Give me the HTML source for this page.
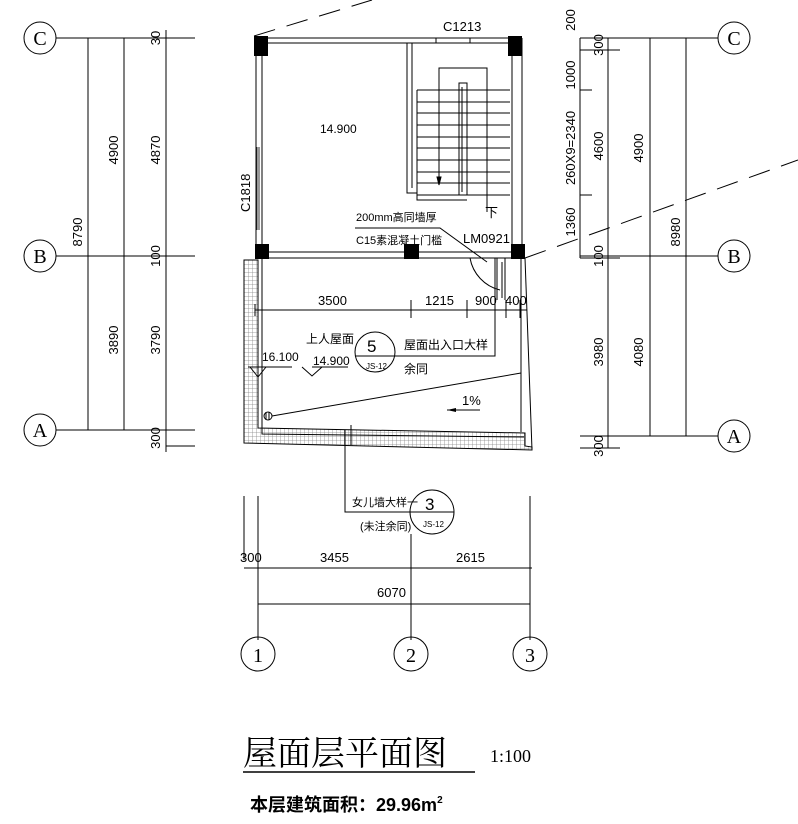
<!DOCTYPE html><html><head><meta charset="utf-8"><style>body{margin:0;background:#fff}svg{display:block}text{font-family:"Liberation Sans","Noto Sans CJK SC",sans-serif;fill:#000}</style></head><body>
<svg width="798" height="824" viewBox="0 0 798 824" xmlns="http://www.w3.org/2000/svg">
<defs><pattern id="h" width="4" height="4" patternUnits="userSpaceOnUse"><rect width="4" height="4" fill="#fff"/><path d="M0 0H4M0 0V4" stroke="#888" stroke-width="0.8"/></pattern></defs>
<g stroke="#000" fill="none" stroke-width="1">
<!-- left axes -->
<circle cx="40" cy="38" r="16"/><circle cx="40" cy="256" r="16"/><circle cx="40" cy="430" r="16"/>
<path d="M56 38H195M56 256H195M56 430H195M166 446H195M88 38V430M124 38V430M166 30V452"/>
<!-- right axes -->
<circle cx="734" cy="38" r="16"/><circle cx="734" cy="256" r="16"/><circle cx="734" cy="436" r="16"/>
<path d="M580 38H718M580 256H718M580 436H718M580 448H620M580 50H620M580 90H592M580 195H592M580 258H620M580 38V258M608 38V448M650 38V436M686 38V436"/>
<!-- dashed -->
<path d="M254 36L372 0M525 258L798 160" stroke-dasharray="22,12"/>
<!-- walls -->
<path d="M255 38H522M255 43H522M262 43V252M256 38V252M512 43V252M522 38V252M255 252H525M255 258H525"/>
<path d="M436 43H470M436 38V43M470 38V43"/>
<path d="M407 43V193H417M412 43V188M417 90V200H467M417 90H510"/>
<path d="M417 102H510M417 113H510M417 125H510M417 137H510M417 148H510M417 160H510M417 172H510M417 183H510M417 195H510"/>
<path d="M459 83H467V195H459ZM462 87V192"/>
<path d="M439 185V68H487V212"/>
<path d="M439 185l-2-8h4z" fill="#000"/>
<path d="M262 147V230M257 147V230M259 147V230" stroke-width="0.8"/>
<path d="M470 258A40 40 0 0 0 500 290M497 258V300M505 258V300M502 262V298" />
<path d="M355 228H440L487 262"/>
</g>
<g fill="#000">
<rect x="254" y="36" width="14" height="20"/><rect x="508" y="36" width="14" height="20"/>
<rect x="255" y="244" width="14" height="15"/><rect x="404" y="244" width="15" height="15"/><rect x="511" y="244" width="14" height="15"/>
</g>
<!-- roof -->
<path d="M244 260H258V428L525 433V446L532 447L532 450L244 443Z" fill="url(#h)" stroke="#000"/>
<g stroke="#000" fill="none">
<path d="M262 258V434L524 437M525 258L532 450M521 258V432"/>
<path d="M255 310H527M255 304V316M411 300V318M467 300V318M506 300V318M520 300V318"/>
<circle cx="375" cy="352" r="20"/><path d="M355 356H495V258"/>
<path d="M248 367H292M250 367l8 10l8-10M312 367H348M302 367l10 9l10-9"/>
<path d="M272 416L521 373"/><circle cx="268" cy="416" r="4"/><path d="M266 412V420M269 412V420"/>
<path d="M447 410H480"/><path d="M345 430V512H413M351 425V445" />
<circle cx="432" cy="512" r="22"/><path d="M411 512H454"/>
<path d="M244 496V560M258 496V640M411 534V640M530 496V640M244 568H532M258 604H530"/>
<circle cx="258" cy="654" r="17"/><circle cx="411" cy="654" r="17"/><circle cx="530" cy="654" r="17"/>
<path d="M243 772H475" stroke-width="1.5"/>
</g>
<path d="M447 410l9-2v4z" fill="#000"/>
<g font-size="13">
<text x="443" y="31">C1213</text>
<text x="320" y="133" font-size="12">14.900</text>
<text transform="translate(250 212) rotate(-90)">C1818</text>
<text x="356" y="221" font-size="11">200mm高同墙厚</text>
<text x="356" y="244" font-size="11">C15素混凝土门槛</text>
<text x="485" y="217">下</text>
<text x="463" y="243">LM0921</text>
<text x="318" y="305">3500</text><text x="425" y="305">1215</text><text x="475" y="305">900</text><text x="505" y="305">400</text>
<text x="306" y="343" font-size="12">上人屋面</text>
<text x="404" y="349" font-size="12">屋面出入口大样</text>
<text x="404" y="373" font-size="12">余同</text>
<text x="262" y="361" font-size="12">16.100</text><text x="313" y="365" font-size="12">14.900</text>
<text x="367" y="352" font-size="17">5</text><text x="366" y="369" font-size="8">JS-12</text>
<text x="462" y="405">1%</text>
<text x="352" y="506" font-size="11">女儿墙大样一</text>
<text x="360" y="530" font-size="11">(未注余同)</text>
<text x="425" y="510" font-size="17">3</text><text x="423" y="527" font-size="8">JS-12</text>
<text x="240" y="562">300</text><text x="320" y="562">3455</text><text x="456" y="562">2615</text><text x="377" y="597">6070</text>
</g>
<g font-family="Liberation Serif" font-size="20" text-anchor="middle">
<text x="40" y="45" style="font-family:'Liberation Serif'">C</text><text x="40" y="263" style="font-family:'Liberation Serif'">B</text><text x="40" y="437" style="font-family:'Liberation Serif'">A</text>
<text x="734" y="45" style="font-family:'Liberation Serif'">C</text><text x="734" y="263" style="font-family:'Liberation Serif'">B</text><text x="734" y="443" style="font-family:'Liberation Serif'">A</text>
<text x="258" y="662" style="font-family:'Liberation Serif'">1</text><text x="411" y="662" style="font-family:'Liberation Serif'">2</text><text x="530" y="662" style="font-family:'Liberation Serif'">3</text>
</g>
<g font-size="13" text-anchor="middle">
<text transform="translate(82 232) rotate(-90)">8790</text>
<text transform="translate(118 150) rotate(-90)">4900</text>
<text transform="translate(118 340) rotate(-90)">3890</text>
<text transform="translate(160 150) rotate(-90)">4870</text>
<text transform="translate(160 340) rotate(-90)">3790</text>
<text transform="translate(160 38) rotate(-90)">30</text>
<text transform="translate(160 256) rotate(-90)">100</text>
<text transform="translate(160 438) rotate(-90)">300</text>
<text transform="translate(575 20) rotate(-90)">200</text>
<text transform="translate(603 45) rotate(-90)">300</text>
<text transform="translate(575 75) rotate(-90)">1000</text>
<text transform="translate(575 148) rotate(-90)">260X9=2340</text>
<text transform="translate(603 146) rotate(-90)">4600</text>
<text transform="translate(575 222) rotate(-90)">1360</text>
<text transform="translate(603 256) rotate(-90)">100</text>
<text transform="translate(643 148) rotate(-90)">4900</text>
<text transform="translate(680 232) rotate(-90)">8980</text>
<text transform="translate(603 352) rotate(-90)">3980</text>
<text transform="translate(643 352) rotate(-90)">4080</text>
<text transform="translate(603 446) rotate(-90)">300</text>
</g>
<text x="243" y="765" font-size="34" style="font-family:'Liberation Serif','Noto Serif CJK SC',serif">屋面层平面图</text>
<text x="490" y="762" font-size="18" style="font-family:'Liberation Serif',serif">1:100</text>
<text x="250" y="811" font-size="18" font-weight="bold">本层建筑面积：29.96m<tspan font-size="10" dy="-8">2</tspan></text>
</svg></body></html>
